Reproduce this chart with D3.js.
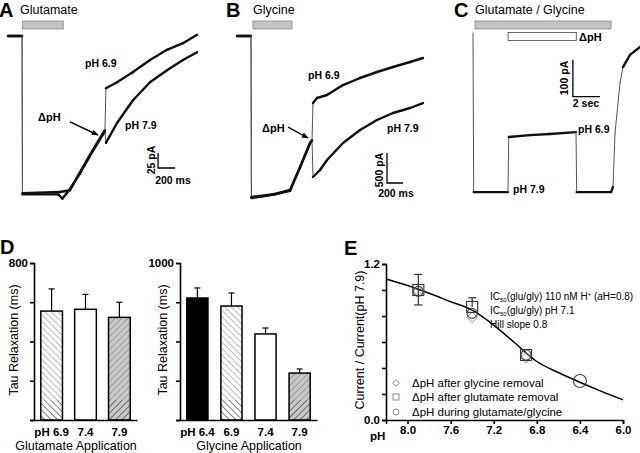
<!DOCTYPE html>
<html><head><meta charset="utf-8">
<script src="https://cdn.jsdelivr.net/npm/d3@7/dist/d3.min.js"></script>
<style>
body{margin:0;background:#fff;}
svg{display:block;font-family:"Liberation Sans",Arial,sans-serif;}
</style></head><body>
<svg id="fig" width="640" height="453"></svg>
<script>
// ---- traces, [time, current] ----
// A: glutamate (ms, pA)
var traceA69 = [[0,0],[165,0],[170,-262],[611,-260],[729,-257],[847,-227],[964,-198],[1117,-162],[1140,-157],[1152,-87],[1282,-77],[1470,-60],[1670,-40],[1870,-23],[2058,-12],[2223,2]];
var traceA79 = [[0,0],[165,0],[170,-264],[590,-264],[640,-271],[690,-262],[729,-255],[847,-229],[964,-200],[1117,-164],[1140,-160],[1152,-178],[1282,-145],[1470,-107],[1670,-77],[1870,-57],[2058,-40],[2223,-27]];
// B: glycine (ms, pA)
var traceB69 = [[0,0],[175,0],[180,-2683],[288,-2667],[475,-2633],[663,-2567],[788,-2183],[913,-1783],[938,-1733],[950,-1117],[1000,-1033],[1125,-983],[1325,-817],[1538,-700],[1750,-600],[1950,-517],[2163,-433],[2325,-367]];
var traceB79 = [[0,0],[175,0],[180,-2700],[288,-2680],[475,-2640],[663,-2580],[788,-2190],[913,-1790],[938,-1740],[950,-2350],[1038,-2233],[1125,-2067],[1325,-1783],[1538,-1567],[1750,-1400],[1950,-1283],[2163,-1200],[2325,-1117]];
// C: glutamate / glycine (s, pA)
var traceC = [[0,0],[0.05,-430],[2.59,-430],[2.65,-281],[4.22,-276],[5.7,-273],[7.63,-268],[7.68,-430],[10.23,-430],[10.37,-416],[10.52,-270],[10.89,-135],[11.11,-92],[11.63,-59],[12.37,-38]];

// ---- D bars ----
var gluCats = ["pH 6.9", "7.4", "7.9"];
var gluTau = [555, 564, 523];
var gluErr = [668, 640, 600];
var glyCats = ["pH 6.4", "6.9", "7.4", "7.9"];
var glyTau = [777, 726, 548, 299];
var glyErr = [841, 809, 586, 325];

// ---- E dose response ----
var diamondPH = [7.9, 7.4, 6.9];
var diamondVal = [0.99, 0.79, 0.48];
var squarePH = [7.9, 7.4, 6.9];
var squareVal = [1.0, 0.87, 0.50];
var circlePH = [7.9, 7.4, 6.9, 6.4];
var circleVal = [0.99, 0.82, 0.50, 0.30];
var errPH = [7.9, 7.9, 7.4];
var errLo = [1.0, 1.0, 0.87];
var errHi = [1.12, 0.885, 0.94];
var fitPH = [8.2, 8.0, 7.8, 7.6, 7.4, 7.2, 7.0, 6.8, 6.6, 6.4, 6.2, 6.0];
var fitVal = [1.085, 1.035, 0.975, 0.91, 0.845, 0.73, 0.59, 0.45, 0.365, 0.29, 0.22, 0.155];
var eTicksX = [8.0, 7.6, 7.2, 6.8, 6.4, 6.0];
var eTicksY = [0, 0.2, 0.4, 0.6, 0.8, 1.0, 1.2];

var svg = d3.select("#fig");
var defs = svg.append("defs");

function hatch(id, angle, bg, col) {
  var p = defs.append("pattern").attr("id", id)
    .attr("patternUnits", "userSpaceOnUse").attr("width", 4.5).attr("height", 4.5)
    .attr("patternTransform", "rotate(" + angle + ")");
  p.append("rect").attr("width", 4.5).attr("height", 4.5).attr("fill", bg);
  p.append("line").attr("x1", 0).attr("y1", 0).attr("x2", 0).attr("y2", 4.5)
    .attr("stroke", col).attr("stroke-width", 1.1);
}
hatch("hBack", -45, "#fff", "#8a8a8a");
hatch("hBackDark", -45, "#fff", "#222");
hatch("hFwd", 45, "#c8c8c8", "#777");
hatch("hFwdDark", 45, "#c8c8c8", "#222");

defs.append("marker").attr("id", "arr").attr("viewBox", "0 0 10 10")
  .attr("refX", 9).attr("refY", 5).attr("markerWidth", 7).attr("markerHeight", 7)
  .attr("orient", "auto").attr("markerUnits", "userSpaceOnUse")
  .append("path").attr("d", "M0,1 L10,5 L0,9 z").attr("fill", "#000");

function txt(x, y, s, size, weight, anchor) {
  return svg.append("text").attr("x", x).attr("y", y).text(s)
    .attr("font-size", size).attr("font-weight", weight || "normal")
    .attr("text-anchor", anchor || "start");
}

// draws a recording: steep jumps thin, noisy parts thick
function drawTrace(data, x, y) {
  for (var i = 1; i < data.length; i++) {
    var x1 = x(data[i-1][0]), y1 = y(data[i-1][1]);
    var x2 = x(data[i][0]), y2 = y(data[i][1]);
    var steep = Math.abs(y2 - y1) > 3 * Math.abs(x2 - x1);
    svg.append("line").attr("x1", x1).attr("y1", y1).attr("x2", x2).attr("y2", y2)
      .attr("stroke", steep ? "#555" : "#111")
      .attr("stroke-width", steep ? 1 : 2.4)
      .attr("stroke-linecap", "round");
  }
}

function scaleBar(x, y, t0, dt, i0, di) {
  svg.append("path")
    .attr("d", "M" + x(t0) + "," + y(i0 + di) + "V" + y(i0) + "H" + x(t0 + dt))
    .attr("fill", "none").attr("stroke", "#000").attr("stroke-width", 1.3);
}

// ---------- A ----------
var xA = d3.scaleLinear().domain([0, 2223]).range([8, 197]);
var yA = d3.scaleLinear().domain([-265, 5]).range([195, 33]);
txt(-1, 17, "A", 20, "bold");
txt(20, 14, "Glutamate", 12.5);
svg.append("rect").attr("x", xA(170)).attr("y", 21).attr("width", xA(650) - xA(170)).attr("height", 8)
  .attr("fill", "#c4c4c4").attr("stroke", "#888").attr("stroke-width", 0.8);
drawTrace(traceA79, xA, yA);
drawTrace(traceA69, xA, yA);
scaleBar(xA, yA, 1765, 200, -220, 25);
txt(151, 160, "25 pA", 10.5, "bold", "middle").attr("transform", "rotate(-90,151,160)").attr("dy", "0.35em");
txt(173, 184, "200 ms", 10.5, "bold", "middle");
txt(85, 67, "pH 6.9", 10.5, "bold");
txt(125, 129, "pH 7.9", 10.5, "bold");
txt(38, 121, "\u0394pH", 11, "bold");
svg.append("line").attr("x1", xA(729)).attr("y1", yA(-143)).attr("x2", xA(1058)).attr("y2", yA(-165))
  .attr("stroke", "#000").attr("stroke-width", 1.4).attr("marker-end", "url(#arr)");

// ---------- B ----------
var xB = d3.scaleLinear().domain([0, 2325]).range([237, 423]);
var yB = d3.scaleLinear().domain([-2750, 50]).range([201, 33]);
txt(226, 17, "B", 20, "bold");
txt(253, 14, "Glycine", 12.5);
svg.append("rect").attr("x", 253).attr("y", 21).attr("width", 39).attr("height", 8)
  .attr("fill", "#c4c4c4").attr("stroke", "#888").attr("stroke-width", 0.8);
drawTrace(traceB79, xB, yB);
drawTrace(traceB69, xB, yB);
scaleBar(xB, yB, 1875, 200, -2450, 500);
txt(379, 170, "500 pA", 10.5, "bold", "middle").attr("transform", "rotate(-90,379,170)").attr("dy", "0.35em");
txt(396, 197, "200 ms", 10.5, "bold", "middle");
txt(308, 79, "pH 6.9", 10.5, "bold");
txt(387, 132, "pH 7.9", 10.5, "bold");
txt(262, 132, "\u0394pH", 11, "bold");
svg.append("line").attr("x1", xB(638)).attr("y1", yB(-1517)).attr("x2", xB(888)).attr("y2", yB(-1700))
  .attr("stroke", "#000").attr("stroke-width", 1.4).attr("marker-end", "url(#arr)");

// ---------- C ----------
var xC = d3.scaleLinear().domain([0, 12.37]).range([473, 640]);
var yC = d3.scaleLinear().domain([-450, 0]).range([199.5, 33]);
txt(454, 17, "C", 20, "bold");
txt(475, 14, "Glutamate / Glycine", 12.5);
svg.append("rect").attr("x", 475).attr("y", 21).attr("width", 136).attr("height", 8)
  .attr("fill", "#c4c4c4").attr("stroke", "#888").attr("stroke-width", 0.8);
svg.append("rect").attr("x", xC(2.6)).attr("y", 32.5).attr("width", xC(7.65) - xC(2.6)).attr("height", 8)
  .attr("fill", "#fff").attr("stroke", "#444").attr("stroke-width", 0.8);
txt(579, 41, "\u0394pH", 11, "bold");
drawTrace(traceC, xC, yC);
scaleBar(xC, yC, 7.4, 2, -172, 100);
txt(564, 78, "100 pA", 10.5, "bold", "middle").attr("transform", "rotate(-90,564,78)").attr("dy", "0.35em");
txt(586, 107, "2 sec", 10.5, "bold", "middle");
txt(578, 133, "pH 6.9", 10.5, "bold");
txt(513, 193, "pH 7.9", 10.5, "bold");

// ---------- D ----------
function barPanel(cats, vals, errs, maxV, x0, x1, pi, fills, darks) {
  var x = d3.scaleBand().domain(cats).range([x0, x1]).paddingInner(pi).paddingOuter(0.2);
  var y = d3.scaleLinear().domain([0, maxV]).range([420, 263]);
  var g = svg.append("g");
  cats.forEach(function (c, i) {
    var cx = x(c) + x.bandwidth() / 2;
    g.append("line").attr("x1", cx).attr("x2", cx)
      .attr("y1", y(vals[i])).attr("y2", y(errs[i])).attr("stroke", "#000").attr("stroke-width", 1.2);
    g.append("line").attr("x1", cx - 3).attr("x2", cx + 3)
      .attr("y1", y(errs[i])).attr("y2", y(errs[i])).attr("stroke", "#000").attr("stroke-width", 1.2);
    g.append("rect").attr("x", x(c)).attr("y", y(vals[i])).attr("width", x.bandwidth())
      .attr("height", y(0) - y(vals[i])).attr("fill", fills[i]);
    if (darks[i]) {
      g.append("rect").attr("x", x(c)).attr("y", y(0) - 20).attr("width", x.bandwidth())
        .attr("height", 20).attr("fill", darks[i]);
    }
    g.append("rect").attr("x", x(c)).attr("y", y(vals[i])).attr("width", x.bandwidth())
      .attr("height", y(0) - y(vals[i])).attr("fill", "none").attr("stroke", "#000").attr("stroke-width", 1.5);
  });
  var step = maxV / 4;
  var ay = g.append("g").attr("transform", "translate(" + x0 + ",0)")
    .call(d3.axisLeft(y).tickValues(d3.range(0, maxV + 1, step))
      .tickFormat(function (d) { return d === maxV ? d : ""; }).tickSize(4).tickPadding(2));
  var ax = g.append("g").attr("transform", "translate(0,420)")
    .call(d3.axisBottom(x).tickSize(0).tickPadding(7));
  [ay, ax].forEach(function (a) {
    a.attr("font-family", null).attr("font-size", 11.5).attr("font-weight", "bold");
    a.selectAll("path,line").attr("stroke-width", 1.6);
  });
  ax.selectAll("text").attr("dy", "0.75em");
  return g;
}
txt(0, 254, "D", 20, "bold");
barPanel(gluCats, gluTau, gluErr, 800, 34, 137, 0.36,
  ["url(#hBack)", "#fff", "url(#hFwd)"], ["url(#hBackDark)", null, "url(#hFwdDark)"]);
barPanel(glyCats, glyTau, glyErr, 1000, 180, 317, 0.38,
  ["#000", "url(#hBack)", "#fff", "url(#hFwd)"], [null, "url(#hBackDark)", null, "url(#hFwdDark)"]);
txt(18, 340, "Tau Relaxation (ms)", 12.5, "normal", "middle").attr("transform", "rotate(-90,18,340)");
txt(167, 340, "Tau Relaxation (ms)", 12.5, "normal", "middle").attr("transform", "rotate(-90,167,340)");
txt(76, 450, "Glutamate Application", 12.5, "normal", "middle");
txt(249, 450, "Glycine Application", 12.5, "normal", "middle");

// ---------- E ----------
var xE = d3.scaleLinear().domain([8.2, 6.0]).range([386, 623]);
var yE = d3.scaleLinear().domain([0, 1.2]).range([420, 264]);
txt(344, 255, "E", 20, "bold");
var eY = svg.append("g").attr("transform", "translate(386,0)")
  .call(d3.axisLeft(yE).tickValues(eTicksY)
    .tickFormat(function (d) { return d === 0 || d === 1.2 ? d3.format(".1f")(d) : ""; })
    .tickSize(4).tickPadding(2));
var eX = svg.append("g").attr("transform", "translate(0,420)")
  .call(d3.axisBottom(xE).tickValues(eTicksX).tickFormat(d3.format(".1f")).tickSize(4).tickPadding(2));
[eY, eX].forEach(function (a) {
  a.attr("font-family", null).attr("font-size", 11.5).attr("font-weight", "bold");
  a.selectAll("path,line").attr("stroke-width", 1.6);
});
txt(370, 440, "pH", 11.5, "bold");
txt(364, 340, "Current / Current(pH 7.9)", 12.5, "normal", "middle").attr("transform", "rotate(-90,364,340)");

svg.append("path").datum(d3.zip(fitPH, fitVal))
  .attr("d", d3.line().x(function (d) { return xE(d[0]); }).y(function (d) { return yE(d[1]); }).curve(d3.curveMonotoneX))
  .attr("fill", "none").attr("stroke", "#000").attr("stroke-width", 1.5);

errPH.forEach(function (p, i) {
  svg.append("line").attr("x1", xE(p)).attr("x2", xE(p)).attr("y1", yE(errLo[i])).attr("y2", yE(errHi[i]))
    .attr("stroke", "#333").attr("stroke-width", 1.2);
  svg.append("line").attr("x1", xE(p) - 4).attr("x2", xE(p) + 4).attr("y1", yE(errHi[i])).attr("y2", yE(errHi[i]))
    .attr("stroke", "#333").attr("stroke-width", 1.2);
});
diamondPH.forEach(function (p, i) {
  svg.append("path").attr("d", d3.symbol(d3.symbolDiamond2, 70)())
    .attr("transform", "translate(" + xE(p) + "," + yE(diamondVal[i]) + ")")
    .attr("fill", "none").attr("stroke", "#999").attr("stroke-width", 1);
});
squarePH.forEach(function (p, i) {
  svg.append("rect").attr("x", xE(p) - 5.5).attr("y", yE(squareVal[i]) - 5.5).attr("width", 11).attr("height", 11)
    .attr("fill", "none").attr("stroke", "#333").attr("stroke-width", 1.1);
});
circlePH.forEach(function (p, i) {
  svg.append("circle").attr("cx", xE(p)).attr("cy", yE(circleVal[i])).attr("r", p === 6.4 ? 6.5 : 5)
    .attr("fill", "none").attr("stroke", "#444").attr("stroke-width", 1.1);
});

// fit annotation
function icLine(y, rest) {
  var t = svg.append("text").attr("x", 490).attr("y", y).attr("font-size", 10);
  t.append("tspan").text("IC");
  t.append("tspan").attr("font-size", 6).attr("dy", 2).text("50");
  t.append("tspan").attr("dy", -2).text(rest);
  return t;
}
var ic1 = icLine(300, "(glu/gly) 110 nM H");
ic1.append("tspan").attr("font-size", 6).attr("dy", -4).text("+");
ic1.append("tspan").attr("dy", 4).text(" (");
ic1.append("tspan").attr("font-style", "italic").text("a");
ic1.append("tspan").text("H=0.8)");
if (ic1.node().getComputedTextLength() > 148) {
  ic1.attr("textLength", 148).attr("lengthAdjust", "spacingAndGlyphs");
}
icLine(314, "(glu/gly) pH 7.1");
txt(490, 328, "Hill slope 0.8", 10, "normal");

// legend
var legY = [383, 397, 412];
var legTxt = ["\u0394pH after glycine removal", "\u0394pH after glutamate removal", "\u0394pH during glutamate/glycine"];
svg.append("path").attr("d", d3.symbol(d3.symbolDiamond2, 28)()).attr("transform", "translate(396," + legY[0] + ")")
  .attr("fill", "none").attr("stroke", "#888");
svg.append("rect").attr("x", 393).attr("y", legY[1] - 3).attr("width", 6).attr("height", 6)
  .attr("fill", "none").attr("stroke", "#888");
svg.append("circle").attr("cx", 396).attr("cy", legY[2]).attr("r", 3).attr("fill", "none").attr("stroke", "#888");
legTxt.forEach(function (s, i) { txt(412, legY[i] + 4, s, 11.5, "normal"); });
</script>
</body></html>
